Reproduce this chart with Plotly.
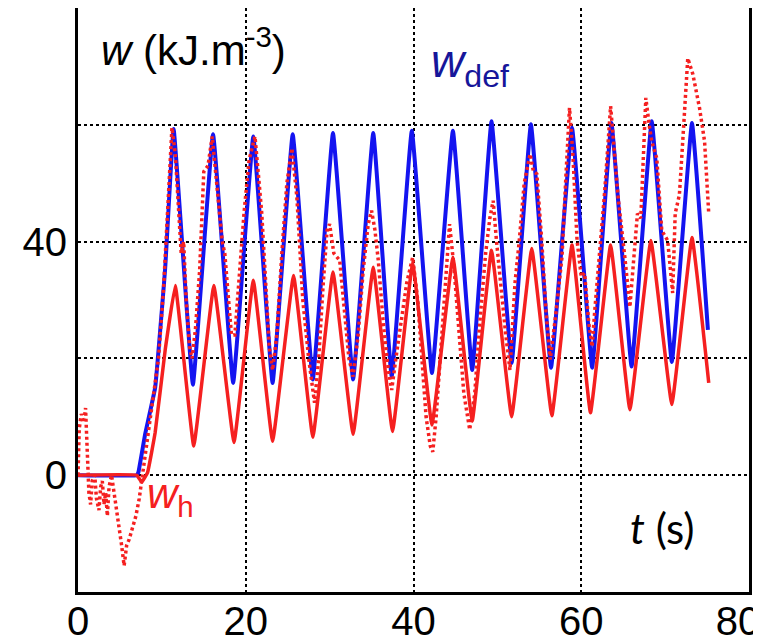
import plotly.graph_objects as go

# ---- data ----
t_def = [0, 7.0, 7.2, 8.0, 9.2, 10.4, 11.4, 13.7, 16.1, 18.5, 20.9, 23.2, 25.6, 28.0,
         30.4, 32.8, 35.2, 37.4, 39.8, 42.2, 44.7, 47.0, 49.3, 51.7, 54.0, 56.4,
         58.9, 61.3, 63.6, 66.0, 68.4, 70.8, 73.2, 75.1]
w_def = [0, 0, 0.5, 7.0, 15.0, 35.6, 59.3, 15.5, 58.4, 15.8, 58.0, 15.8, 58.4, 16.4,
         58.6, 16.4, 58.6, 16.9, 59.0, 17.5, 59.0, 18.0, 60.6, 19.2, 60.1, 18.4,
         59.5, 18.4, 60.3, 18.6, 60.6, 19.4, 60.3, 24.9]

t_h = [0, 7.0, 7.6, 8.3, 9.2, 10.4, 11.6, 13.8, 16.2, 18.6, 20.9, 23.2, 25.7, 28.0,
       30.4, 32.8, 35.2, 37.5, 39.9, 42.2, 44.7, 47.0, 49.3, 51.7, 54.1, 56.5,
       58.9, 61.1, 63.5, 65.8, 68.3, 70.8, 73.2, 75.2]
w_h = [0, 0, -1.2, 0.5, 7.3, 21.5, 32.5, 5.0, 32.5, 5.6, 33.4, 5.8, 34.2, 6.5,
       34.8, 7.0, 35.6, 7.5, 36.3, 8.6, 37.3, 9.3, 38.5, 10.0, 38.8, 10.2,
       39.4, 10.7, 39.4, 11.2, 40.2, 12.1, 40.7, 15.8]

t_meas = [0, 0.15, 0.4, 0.7, 0.9, 1.1, 1.3, 1.5, 1.7, 2.0, 2.2, 2.5, 2.7, 2.9, 3.1, 3.3,
          3.5, 3.7, 4.0, 4.2, 4.5, 4.9, 5.2, 5.5, 5.8, 6.1, 6.5, 6.9, 7.3, 7.7, 8.1,
          8.6, 9.0, 9.6, 10.2, 10.7, 11.2, 11.6, 12.0, 12.3, 12.6, 12.9, 13.3, 13.6,
          14.0, 14.5, 15.0, 15.5, 16.0, 16.4, 16.9, 17.2, 17.5, 17.9, 18.3, 18.7,
          19.2, 19.8, 20.4, 21.1, 21.6, 21.9, 22.3, 22.8, 23.2, 23.7, 24.3, 24.9,
          25.5, 26.1, 26.8, 27.5, 28.2, 28.7, 29.2, 29.7, 30.0, 30.5, 31.2, 31.8,
          32.3, 32.8, 33.4, 34.0, 34.6, 35.0, 35.4, 35.8, 36.4, 37.0, 37.4, 37.9,
          38.6, 39.2, 39.9, 40.5, 41.0, 41.5, 42.0, 42.3, 42.7, 43.3, 43.9, 44.3,
          44.8, 45.4, 46.0, 46.7, 47.3, 47.9, 48.6, 49.1, 49.5, 49.9, 50.4, 51.0,
          51.5, 52.1, 52.6, 53.2, 53.9, 54.3, 54.7, 55.3, 55.8, 56.3, 57.0, 57.7,
          58.2, 58.6, 59.0, 59.5, 60.0, 60.4, 60.9, 61.3, 61.6, 62.0, 62.8, 63.5,
          64.0, 64.4, 65.2, 65.8, 66.2, 66.7, 67.1, 67.4, 67.7, 68.1, 68.4, 69.0,
          69.6, 70.3, 70.9, 71.2, 71.7, 72.1, 72.7, 73.3, 74.1, 74.7, 75.2]
w_meas = [0, 8, 10.5, 9, 11.5, 4, -3, -5, -1, 0, -4, -6, -2, -1, -5, -3,
          -7, -2, 0, -2, -5, -8, -12, -15.5, -12, -11, -9, -7, -4, 0, 5,
          9, 13, 20, 32, 45, 59.5, 55, 44, 38, 40, 30, 22, 20,
          25, 35, 52, 53, 58, 52, 44, 40, 38, 30, 24, 24,
          34, 45, 54, 58, 50, 45, 35, 22, 18, 24, 38, 50,
          56, 47.5, 30, 20, 12.4, 20, 32, 42, 43, 38, 36.8, 28,
          20, 16.9, 24, 35, 43, 45.3, 42, 36.8, 26, 18, 14.6, 20,
          27, 33, 37.3, 30, 20, 10, 5, 4, 10, 22, 36, 43,
          36, 25, 14, 7.8, 14, 26, 38, 44, 47, 40, 32, 24,
          18, 32.9, 40, 50, 55, 52, 51.6, 40, 28, 19.8, 28, 37.3,
          52, 62.9, 55, 40.2, 34, 34.6, 26, 22, 28, 34.6, 48.7, 63.2,
          55, 47.5, 37.3, 28.8, 36, 44.8, 44, 55, 64.6, 60, 57.2, 54.3,
          41.9, 40.2, 31.2, 44.8, 48, 57.2, 71.4, 68.7, 62.9, 57.2, 44.8]

x_ticks = [0, 20, 40, 60, 80]
x_ticktext = ["0", "20", "40", "60", "80&nbsp;&nbsp;"]
y_ticks = [-20, 0, 20, 40, 60, 80]
y_ticktext = ["", "0", "", "40", "", ""]

BLUE = "#1414f0"
RED = "#f52020"

fig = go.Figure()
fig.add_trace(go.Scatter(x=t_def, y=w_def, mode="lines",
                         line=dict(color=BLUE, width=4, shape="spline", smoothing=0.25),
                         showlegend=False))
fig.add_trace(go.Scatter(x=t_h, y=w_h, mode="lines",
                         line=dict(color=RED, width=3.5, shape="spline", smoothing=0.25),
                         showlegend=False))
fig.add_trace(go.Scatter(x=t_meas, y=w_meas, mode="lines",
                         line=dict(color=RED, width=3.5, dash="3px,3px"), showlegend=False))

fig.add_annotation(x=2.5, y=73.3, xanchor="left", yanchor="middle", showarrow=False,
                   text="<i>w</i> (kJ.m<sup>-3</sup>)",
                   font=dict(family="Liberation Sans, Arial", size=42, color="black"))
fig.add_annotation(x=41.8, y=70.4, xanchor="left", yanchor="middle", showarrow=False,
                   text="<i>w</i><sub>def</sub>",
                   font=dict(family="Liberation Sans, Arial", size=46, color="#16169a"))
fig.add_annotation(x=8.0, y=-3.6, xanchor="left", yanchor="middle", showarrow=False,
                   text="<i>w</i><sub>h</sub>",
                   font=dict(family="Liberation Sans, Arial", size=42, color=RED))
fig.add_annotation(x=65.6, y=-9.0, xanchor="left", yanchor="middle", showarrow=False,
                   text="<i>t</i> (s)",
                   font=dict(family="Lato, Open Sans", size=42, color="black"))

axis_common = dict(showline=True, mirror=True, linecolor="black", linewidth=3,
                   showgrid=True, gridcolor="black", gridwidth=2, griddash="dot",
                   zeroline=False, ticks="", automargin=False,
                   tickfont=dict(family="Liberation Sans, Arial", size=40, color="black"))

fig.update_xaxes(range=[0, 80], tickvals=x_ticks, ticktext=x_ticktext,
                 ticklabelstandoff=-8, ticklabeloverflow="allow", **axis_common)
fig.update_yaxes(range=[-20, 80], tickvals=y_ticks, ticktext=y_ticktext, **axis_common)

# the page body adds an 8 px offset, so the figure is sized/margined to compensate
fig.update_layout(width=753, height=633,
                  margin=dict(l=70, r=12, t=0, b=49),
                  plot_bgcolor="white", paper_bgcolor="white")

fig.write_html("out.html")
